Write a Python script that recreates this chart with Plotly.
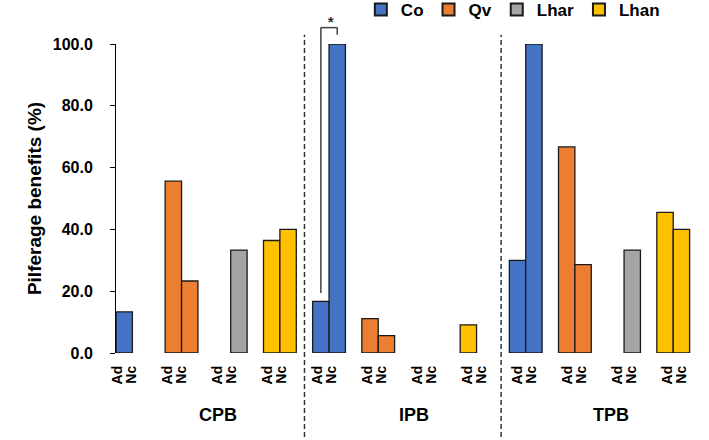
import plotly.graph_objects as go

# ---- data ----
sections = ["CPB", "IPB", "TPB"]
species = ["Co", "Qv", "Lhar", "Lhan"]
conditions = ["Ad", "Nc"]
colors = {"Co": "#4472C4", "Qv": "#ED7D31", "Lhar": "#A5A5A5", "Lhan": "#FFC000"}

# values[species] -> list per section of [Ad, Nc]
co_vals = [[13.3, 0.0], [16.7, 100.0], [30.0, 100.0]]
qv_vals = [[55.6, 23.3], [11.1, 5.6], [66.7, 28.6]]
lhar_vals = [[0.0, 33.3], [0.0, 0.0], [0.0, 33.3]]
lhan_vals = [[36.4, 40.0], [9.1, 0.0], [45.5, 40.0]]
values = {"Co": co_vals, "Qv": qv_vals, "Lhar": lhar_vals, "Lhan": lhan_vals}

y_ticks = [0, 20, 40, 60, 80, 100]
sig_pair = ("IPB", "Co")   # bracket with asterisk between Ad and Nc

FONT = "Liberation Sans"
n_sp = len(species)
slots_per_group = 3  # Ad, Nc, gap

fig = go.Figure()
for si, sp in enumerate(species):
    xs, ys = [], []
    for ki, sec in enumerate(sections):
        g = ki * n_sp + si
        for ci, cond in enumerate(conditions):
            v = values[sp][ki][ci]
            xs.append(g * slots_per_group + ci)
            ys.append(v if v > 0 else None)
    fig.add_trace(go.Bar(
        x=xs, y=ys, name=f"<b>{sp}</b>", width=1.0,
        marker=dict(color=colors[sp], line=dict(color="#1a1a1a", width=1.3)),
    ))

# tick labels Ad / Nc
tickvals, ticktext = [], []
n_groups = len(sections) * n_sp
for g in range(n_groups):
    base = 3.053 * g
    tickvals += [base - 0.42, base + 0.44]
    ticktext += conditions

total_slots = n_groups * slots_per_group
shapes = []
# dashed separators between sections
for k in range(1, len(sections)):
    xs_ = k * n_sp * slots_per_group - 1
    shapes.append(dict(type="line", xref="x", yref="paper", x0=xs_, x1=xs_,
                       y0=-0.272, y1=1.03,
                       line=dict(color="#333333", width=1.5, dash="5px,3px")))

# significance bracket
ks = sections.index(sig_pair[0]); ss = species.index(sig_pair[1])
gx = (ks * n_sp + ss) * slots_per_group
ad_v = values[sig_pair[1]][ks][0] / 100
br_col = "#404040"
shapes += [
    dict(type="line", xref="x", yref="y domain", x0=gx, x1=gx, y0=ad_v + 0.027, y1=1.053,
         line=dict(color=br_col, width=1.5)),
    dict(type="line", xref="x", yref="y domain", x0=gx, x1=gx + 1, y0=1.053, y1=1.053,
         line=dict(color=br_col, width=1.5)),
    dict(type="line", xref="x", yref="y domain", x0=gx + 1, x1=gx + 1, y0=1.053, y1=1.03,
         line=dict(color=br_col, width=1.5)),
]

annotations = [dict(x=gx + 0.6, y=1.105, xref="x", yref="y domain", text="<b>*</b>",
                    showarrow=False, font=dict(family=FONT, size=14, color="#222"))]
for k, sec in enumerate(sections):
    annotations.append(dict(x=k * n_sp * slots_per_group + 5.7, y=-0.2, xref="x", yref="paper",
                            text=f"<b>{sec}</b>", showarrow=False, yanchor="middle",
                            font=dict(family=FONT, size=18, color="#000")))

fig.update_layout(
    width=709, height=440,
    margin=dict(l=116, r=3, t=44, b=87, autoexpand=False),
    plot_bgcolor="white", paper_bgcolor="white",
    barmode="overlay",
    showlegend=True,
    legend=dict(orientation="h", x=0.415, y=1.11, xanchor="left", yanchor="middle",
                font=dict(family=FONT, size=17, color="#000"), bgcolor="rgba(0,0,0,0)",
                itemsizing="constant", traceorder="normal"),
    xaxis=dict(range=[-0.5, total_slots - 0.5], tickvals=tickvals, ticktext=[f"<b>{t}</b>" for t in ticktext],
               tickangle=-90, ticks="", showline=False, showgrid=False, zeroline=False,
               ticklabelstandoff=9, automargin=False,
               tickfont=dict(family=FONT, size=14, color="#000")),
    yaxis=dict(range=[0, 100], tickvals=y_ticks, tickformat=".1f", showline=True,
               linecolor="#000", linewidth=1, ticks="outside", ticklen=5, tickcolor="#000",
               showgrid=False, zeroline=False, ticklabelstandoff=14, automargin=False,
               tickfont=dict(family=FONT, size=16, color="#000"),
               title=dict(text="<b>Pilferage benefits (%)</b>", standoff=6,
                          font=dict(family=FONT, size=19, color="#000"))),
    shapes=shapes, annotations=annotations,
)
fig.update_yaxes(ticktext=[f"<b>{v:.1f}</b>" for v in y_ticks])

fig.write_html("out.html")
